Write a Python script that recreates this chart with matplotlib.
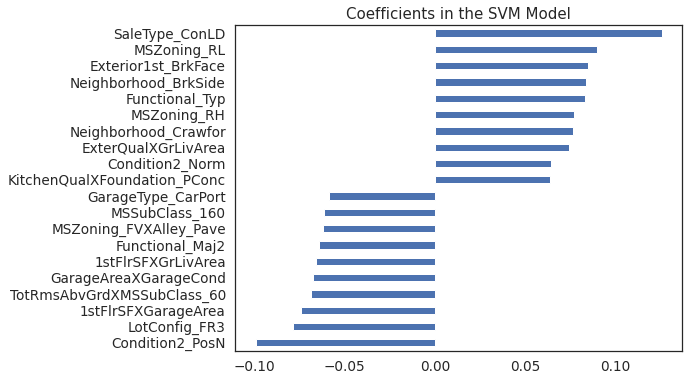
import matplotlib
matplotlib.use("Agg")
import matplotlib.pyplot as plt
import seaborn as sns
import numpy as np

sns.set(style="white", font_scale=1.2)

# features from bottom to top
features = [
    "Condition2_PosN", "LotConfig_FR3", "1stFlrSFXGarageArea",
    "TotRmsAbvGrdXMSSubClass_60", "GarageAreaXGarageCond", "1stFlrSFXGrLivArea",
    "Functional_Maj2", "MSZoning_FVXAlley_Pave", "MSSubClass_160",
    "GarageType_CarPort", "KitchenQualXFoundation_PConc", "Condition2_Norm",
    "ExterQualXGrLivArea", "Neighborhood_Crawfor", "MSZoning_RH",
    "Functional_Typ", "Neighborhood_BrkSide", "Exterior1st_BrkFace",
    "MSZoning_RL", "SaleType_ConLD",
]
coefs = [
    -0.0994, -0.0787, -0.0743, -0.0688, -0.0677, -0.0660, -0.0643, -0.0621,
    -0.0615, -0.0587, 0.0639, 0.0645, 0.0745, 0.0767, 0.0773, 0.0834,
    0.0840, 0.0851, 0.0901, 0.1258,
]

fig = plt.figure(figsize=(688 / 72, 382 / 72), dpi=72)
ax = fig.add_axes([0.342, 0.0812, 0.649, 0.8534])

y = np.arange(len(features))
ax.barh(y, coefs, height=0.45, color="#4c72b0")
ax.set_yticks(y)
ax.set_yticklabels(features, fontsize=13.6)
ax.set_ylim(-0.5, len(features) - 0.5)
ax.set_xticks([-0.10, -0.05, 0.0, 0.05, 0.10])
ax.tick_params(axis="x", labelsize=13.6)
ax.set_title("Coefficients in the SVM Model", fontsize=15)

fig.savefig("out.png", dpi=72)
